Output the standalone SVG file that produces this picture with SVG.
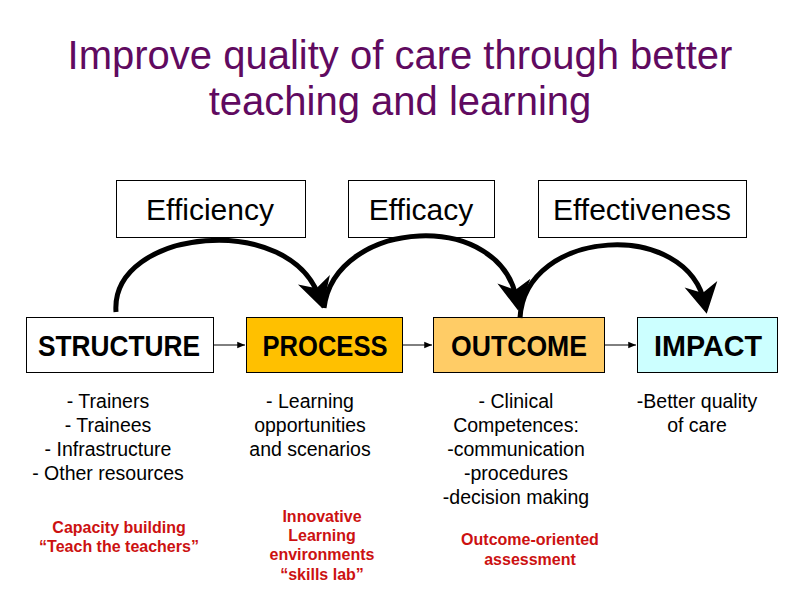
<svg xmlns="http://www.w3.org/2000/svg" width="800" height="600" viewBox="0 0 800 600">
<style>
.title{font-family:"Liberation Sans",Arial,sans-serif;font-size:40px;fill:#600A60;text-anchor:middle}
.box{fill:#fff;stroke:#000;stroke-width:1}
.top{font-family:"Liberation Sans",Arial,sans-serif;font-size:30px;fill:#000;text-anchor:middle}
.lbl{font-family:"Liberation Sans",Arial,sans-serif;font-size:30px;font-weight:bold;fill:#000;text-anchor:middle}
.txt{font-family:"Liberation Sans",Arial,sans-serif;font-size:19.5px;fill:#000;text-anchor:middle}
.red{font-family:"Liberation Sans",Arial,sans-serif;font-size:16px;font-weight:bold;fill:#CC1111;text-anchor:middle}
.arc{fill:none;stroke:#000;stroke-width:5}
.thin{fill:none;stroke:#000;stroke-width:1}
</style>
<defs>
<marker id="big" markerUnits="userSpaceOnUse" markerWidth="40" markerHeight="40" viewBox="-34 -17 36 34" refX="-8" refY="0" orient="auto">
<path d="M0,0 L-27,-15 L-19,0 L-27,15 Z" fill="#000"/>
</marker>
<marker id="small" markerUnits="userSpaceOnUse" markerWidth="10" markerHeight="10" viewBox="-8 -4 9 8" refX="0" refY="0" orient="auto">
<path d="M0,0 L-7,-3 L-7,3 Z" fill="#000"/>
</marker>
</defs>
<g id="title">
<text class="title" x="400" y="69">Improve quality of care through better</text>
<text class="title" x="400" y="115">teaching and learning</text>
</g>
<g id="efficiency">
<rect class="box" x="116.5" y="180.5" width="189" height="57"/>
<text class="top" x="210" y="220">Efficiency</text>
</g>
<g id="efficacy">
<rect class="box" x="348.5" y="180.5" width="146" height="57"/>
<text class="top" x="421" y="220">Efficacy</text>
</g>
<g id="effectiveness">
<rect class="box" x="538.5" y="180.5" width="208" height="57"/>
<text class="top" x="642" y="220">Effectiveness</text>
</g>
<g id="structure">
<rect class="box" x="26.5" y="317.5" width="187" height="55"/>
<text class="lbl" x="119" y="356" textLength="162" lengthAdjust="spacingAndGlyphs">STRUCTURE</text>
</g>
<g id="process">
<rect x="246.5" y="317.5" width="156" height="55" fill="#FFC000" stroke="#000" stroke-width="1"/>
<text class="lbl" x="325" y="356" textLength="125" lengthAdjust="spacingAndGlyphs">PROCESS</text>
</g>
<g id="outcome">
<rect x="433.5" y="317.5" width="171" height="55" fill="#FFCC66" stroke="#000" stroke-width="1"/>
<text class="lbl" x="519" y="356" textLength="136" lengthAdjust="spacingAndGlyphs">OUTCOME</text>
</g>
<g id="impact">
<rect x="637.5" y="317.5" width="140" height="55" fill="#CCFFFF" stroke="#000" stroke-width="1"/>
<text class="lbl" x="708" y="356" textLength="108" lengthAdjust="spacingAndGlyphs">IMPACT</text>
</g>
<g id="connectors">
<path class="thin" d="M214,345 H245" marker-end="url(#small)"/>
<path class="thin" d="M403,345 H432" marker-end="url(#small)"/>
<path class="thin" d="M605,345 H636" marker-end="url(#small)"/>
<path class="arc" d="M116,312 C110,228 293,210 320,300" marker-end="url(#big)"/>
<path class="arc" d="M324,308 C335,218 503,208 517,302" marker-end="url(#big)"/>
<path class="arc" d="M520,318 C525,228 688,218 705,305" marker-end="url(#big)"/>
</g>
<g id="structure-notes">
<text class="txt" x="108" y="408">- Trainers</text>
<text class="txt" x="108" y="432">- Trainees</text>
<text class="txt" x="108" y="456">- Infrastructure</text>
<text class="txt" x="108" y="480">- Other resources</text>
<text class="red" x="119" y="533">Capacity building</text>
<text class="red" x="119" y="552">“Teach the teachers”</text>
</g>
<g id="process-notes">
<text class="txt" x="310" y="408">- Learning</text>
<text class="txt" x="310" y="432">opportunities</text>
<text class="txt" x="310" y="456">and scenarios</text>
<text class="red" x="322" y="522">Innovative</text>
<text class="red" x="322" y="541">Learning</text>
<text class="red" x="322" y="560">environments</text>
<text class="red" x="322" y="580">“skills lab”</text>
</g>
<g id="outcome-notes">
<text class="txt" x="516" y="408">- Clinical</text>
<text class="txt" x="516" y="432">Competences:</text>
<text class="txt" x="516" y="456">-communication</text>
<text class="txt" x="516" y="480">-procedures</text>
<text class="txt" x="516" y="504">-decision making</text>
<text class="red" x="530" y="545">Outcome-oriented</text>
<text class="red" x="530" y="565">assessment</text>
</g>
<g id="impact-notes">
<text class="txt" x="697" y="408">-Better quality</text>
<text class="txt" x="697" y="432">of care</text>
</g>
</svg>
